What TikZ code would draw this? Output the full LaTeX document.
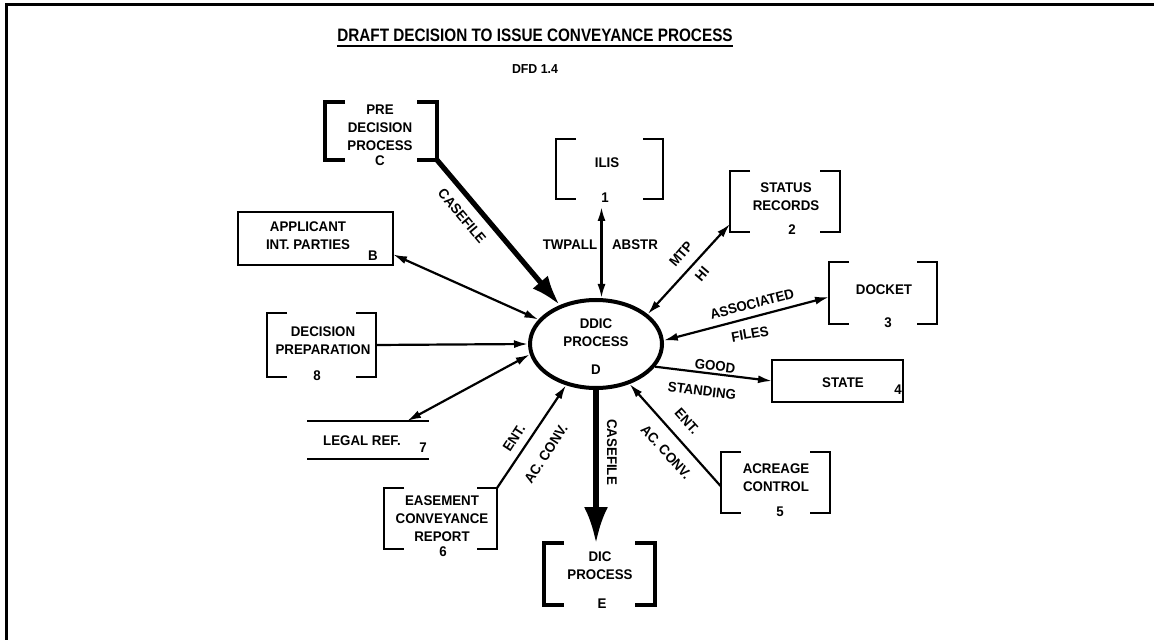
\documentclass[tikz,border=0pt]{standalone}
\usepackage{fontspec}
\newfontfamily\dfdfont[FakeStretch=0.95]{Liberation Sans}
\newfontfamily\dfdtitlefont[FakeStretch=0.85]{Liberation Sans}
\usetikzlibrary{arrows.meta,shapes.geometric,calc,fit}

% square brackets drawn on the left and right sides of a store box
\newcommand\dfdbrackets[2]{%
  \draw[#2] ([xshift=10pt]#1.north west) -- (#1.north west) -- (#1.south west) -- ([xshift=10pt]#1.south west);
  \draw[#2] ([xshift=-10pt]#1.north east) -- (#1.north east) -- (#1.south east) -- ([xshift=-10pt]#1.south east);}

\begin{document}
\begin{tikzpicture}[x=0.5pt,y=-0.5pt,
  txt/.style={font={\dfdfont\bfseries\fontsize{7}{9}\selectfont}, align=center, inner sep=0pt},
  area/.style={inner sep=0pt, outer sep=0pt},
  thinline/.style={line width=1pt},
  thickline/.style={line width=2pt},
  conn/.style={line width=1.1pt},
  heavy/.style={line width=2.6pt},
  >={Latex[length=7pt,width=4pt]}
]
\useasboundingbox (0,0) rectangle (1154,640);

% page frame
\draw[line width=1.5pt] (1154,5) -- (6,5) -- (6,640);

% heading
\node[font={\dfdtitlefont\bfseries\fontsize{9}{11}\selectfont}, inner sep=0pt, anchor=base] (title) at (535,42) {DRAFT DECISION TO ISSUE CONVEYANCE PROCESS};
\draw[line width=1pt] ([yshift=-2pt]title.base west) -- ([yshift=-2pt]title.base east);
\node[txt, font={\dfdfont\bfseries\fontsize{6.5}{8}\selectfont}, anchor=base] (dfd) at (535,74) {DFD 1.4};

% central process
\node[draw, ellipse, line width=2pt, minimum width=66pt, minimum height=44pt, inner sep=0pt] (ddic) at (596,344) {};
\node[txt] at (596,333) {DDIC\\PROCESS};
\node[txt] at (596,370) {D};

% boxes
\node[area, fit={(325,102) (437,160)}] (pre) {};
\node[area, fit={(238,212) (393,265)}] (app) {};
\node[area, fit={(556,139) (663,199)}] (ilis) {};
\node[area, fit={(730,171) (840,232)}] (stat) {};
\node[area, fit={(829,262) (937,324)}] (dock) {};
\node[area, fit={(772,360) (903,402)}] (state) {};
\node[area, fit={(721,452) (830,513)}] (acre) {};
\node[area, fit={(544,543) (655,605)}] (dic) {};
\node[area, fit={(384,488) (497,549)}] (ease) {};
\node[area, fit={(307,421) (429,459)}] (legal) {};
\node[area, fit={(267,313) (376,377)}] (prep) {};

\dfdbrackets{pre}{thickline}
\dfdbrackets{ilis}{thinline}
\dfdbrackets{stat}{thinline}
\dfdbrackets{dock}{thinline}
\dfdbrackets{acre}{thinline}
\dfdbrackets{dic}{thickline}
\dfdbrackets{ease}{thinline}
\dfdbrackets{prep}{thinline}
\draw[thinline] (app.north west) rectangle (app.south east);
\draw[thinline] (state.north west) rectangle (state.south east);
\draw[thinline] (legal.north west) -- (legal.north east);
\draw[thinline] (legal.south west) -- (legal.south east);

% box texts
\node[txt] at (380,128) {PRE\\DECISION\\PROCESS};
\node[txt] at (380,161) {C};
\node[txt] at (308,236) {APPLICANT\\INT. PARTIES};
\node[txt] at (373,256) {B};
\node[txt] at (607,163) {ILIS};
\node[txt] at (605,198) {1};
\node[txt] at (786,197) {STATUS\\RECORDS};
\node[txt] at (792,230) {2};
\node[txt] at (884,290) {DOCKET};
\node[txt] at (888,323) {3};
\node[txt] at (843,383) {STATE};
\node[txt] at (898,390) {4};
\node[txt] at (776,478) {ACREAGE\\CONTROL};
\node[txt] at (780,512) {5};
\node[txt] at (600,566) {DIC\\PROCESS};
\node[txt] at (602,604) {E};
\node[txt] at (442,519) {EASEMENT\\CONVEYANCE\\REPORT};
\node[txt] at (443,552) {6};
\node[txt] at (362,441) {LEGAL REF.};
\node[txt] at (423,448) {7};
\node[txt] at (323,341) {DECISION\\PREPARATION};
\node[txt] at (317,376) {8};

% data flows
\draw[heavy, -{Latex[length=15pt,width=10pt]}] (pre.south east) -- (ddic.133);
\draw[conn, <->] ($(app.east)!0.6!(app.south east)$) -- (ddic.157);
\draw[conn, <->] ([xshift=-4pt,yshift=-4pt]ilis.south) coordinate (ilt) -- (ilt |- ddic.north);
\draw[conn, <->] (ddic.30) -- ([yshift=4pt]stat.south west);
\draw[conn, <->] (ddic.3) -- ([yshift=-2pt]dock.west);
\draw[conn, ->] (ddic.-21) -- (state.west);
\draw[conn, ->] ([yshift=-2pt]acre.west) -- (ddic.-50);
\draw[heavy, -{Latex[length=18pt,width=12pt]}] (ddic.south) -- (ddic.south |- dic.north);
\draw[conn, ->] (ease.north east) -- (ddic.-126);
\draw[conn, <->] ($(legal.north west)!0.82!(legal.north east)$) -- (ddic.189);
\draw[conn, ->] (prep.east) -- (ddic.west);

% flow labels
\node[txt, rotate=-50] at (462,216) {CASEFILE};
\node[txt] at (570,245) {TWPALL};
\node[txt] at (635,245) {ABSTR};
\node[txt, rotate=49.5] at (681,254) {MTP};
\node[txt, rotate=49.5] at (702,274) {HI};
\node[txt, rotate=14.6] at (752,304) {ASSOCIATED};
\node[txt, rotate=10] at (750,334) {FILES};
\node[txt, rotate=-7] at (715,366) {GOOD};
\node[txt, rotate=-7] at (702,391) {STANDING};
\node[txt, rotate=-48] at (687,421) {ENT.};
\node[txt, rotate=-48] at (666,452) {AC. CONV.};
\node[txt, rotate=-90] at (612,452) {CASEFILE};
\node[txt, rotate=57] at (514,438) {ENT.};
\node[txt, rotate=57] at (546,454) {AC. CONV.};
\end{tikzpicture}
\end{document}
